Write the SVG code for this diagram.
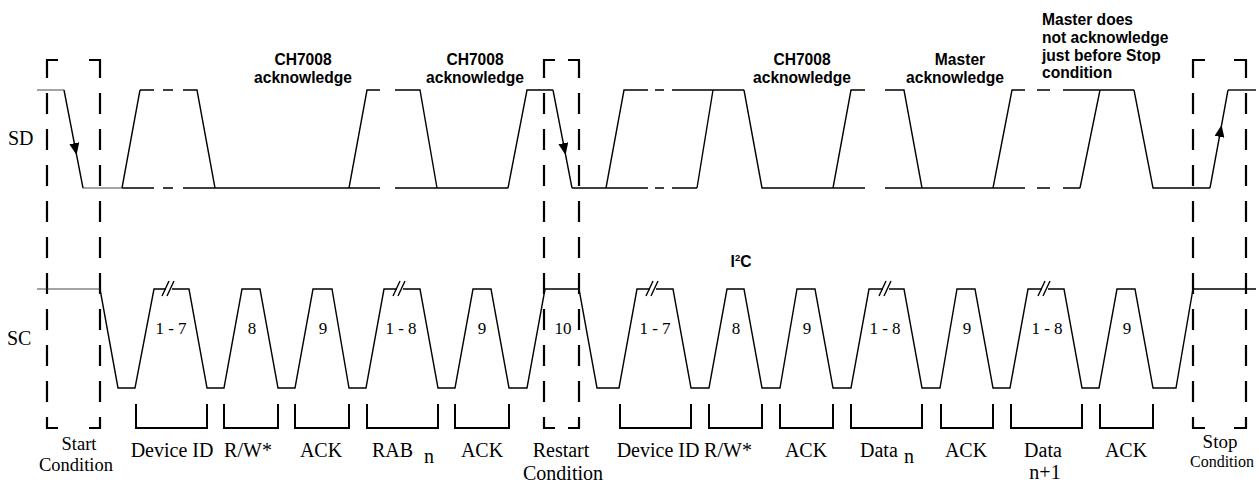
<svg xmlns="http://www.w3.org/2000/svg" width="1259" height="482" viewBox="0 0 1259 482">
<style>
  .w{fill:none;stroke:#000;stroke-width:1.4;stroke-linejoin:miter}
  .thin{fill:none;stroke:#333;stroke-width:0.9}
  .boxv{fill:none;stroke:#000;stroke-width:2.2;stroke-dasharray:21 15;stroke-dashoffset:3}
  .boxh{fill:none;stroke:#000;stroke-width:2.2}
  .br{fill:none;stroke:#000;stroke-width:2}
  .lbl{font-family:"Liberation Serif","Times New Roman",serif;font-size:20px;fill:#000}
  .stk{font-family:"Liberation Serif","Times New Roman",serif;font-size:18.5px;fill:#000;text-anchor:middle}
  .stp{font-family:"Liberation Serif","Times New Roman",serif;font-size:16px;fill:#000;text-anchor:middle}
  .stp2{font-family:"Liberation Serif","Times New Roman",serif;font-size:19px;fill:#000;text-anchor:middle}
  .sig{font-family:"Liberation Serif","Times New Roman",serif;font-size:20px;fill:#000}
  .num{font-family:"Liberation Serif","Times New Roman",serif;font-size:17px;fill:#000;text-anchor:middle}
  .note{font-family:"Liberation Sans",Arial,sans-serif;font-size:15.6px;font-weight:bold;fill:#000}
  .c{text-anchor:middle}
</style>
<defs>
  <marker id="arr" viewBox="0 0 12 10" markerWidth="12" markerHeight="10" refX="12" refY="5" orient="auto" markerUnits="userSpaceOnUse">
    <path d="M0,0 L12,5 L0,10 z" fill="#000"/>
  </marker>
</defs>

<g id="boxes">
  <g id="start-box">
    <line class="boxv" x1="47" y1="60" x2="47" y2="428"/>
    <line class="boxv" x1="100" y1="60" x2="100" y2="428"/>
    <path class="boxh" d="M46,60 H58 M89,60 H101 M46,428 H58 M89,428 H101"/>
  </g>
  <g id="restart-box">
    <line class="boxv" x1="544" y1="60" x2="544" y2="428"/>
    <line class="boxv" x1="579" y1="60" x2="579" y2="428"/>
    <path class="boxh" d="M543,60 H555 M568,60 H580 M543,428 H555 M568,428 H580"/>
  </g>
  <g id="stop-box">
    <line class="boxv" x1="1193" y1="60" x2="1193" y2="428"/>
    <line class="boxv" x1="1246" y1="60" x2="1246" y2="428"/>
    <path class="boxh" d="M1192,60 H1205 M1234,60 H1247 M1192,428 H1205 M1234,428 H1247"/>
  </g>
</g>

<g id="connectors">
  <g id="sd-wave">
    <path class="thin" d="M37,90 H64 M83,188 H122"/>
    <path class="w" d="M64,90 L76.6,155 L83,188" marker-mid="url(#arr)"/>
    <path class="w" d="M122,188 L140,90 M140,90 H154 M163,90 H173 M183,90 H197 L215,188
      M122,188 H154 M163,188 H173 M183,188 H380 M395,188 H508
      M349,188 L367,90 H380 M395,90 H420 L437,188
      M508,188 L527,90 H553"/>
    <path class="w" d="M553,90 L565.6,155 L572,188" marker-mid="url(#arr)"/>
    <path class="w" d="M572,188 H648 M655,188 H664 M672,188 H697
      M606,188 L624,90 H648 M655,90 H664 M672,90 H744
      M697,188 L713,90 M744,90 L762,188 H865
      M833,188 L851,90 H865 M885,90 H904 L922,188
      M885,188 H1025 M1037,188 H1050 M1063,188 H1080
      M993,188 L1012,90 H1025 M1037,90 H1050 M1063,90 H1134
      M1080,188 L1100,90 M1134,90 L1153,188 H1210"/>
    <path class="w" d="M1210,188 L1221.6,125 L1228,90" marker-mid="url(#arr)"/>
    <path class="w" d="M1228,90 H1256"/>
  </g>
  <g id="sc-wave">
    <path class="thin" d="M37,289 H100"/>
    <path class="w" d="M100,289 L118,388 H135 L154,289 H166 M172,289 H189 L207,388 H224 L242,289 H260 L278,388 H295 L313,289 H332 L349,388 H366 L384,289 H397 M403,289 H420 L438,388 H455 L473,289 H491 L509,388 H527 L545,289 H579 L597,388 H619 L637,289 H650 M656,289 H673 L691,388 H709 L727,289 H744 L762,388 H780 L797,289 H815 L833,388 H851 L869,289 H883 M889,289 H904 L922,388 H940 L957,289 H975 L993,388 H1010 L1028,289 H1042 M1048,289 H1064 L1082,388 H1099 L1117,289 H1135 L1153,388 H1176 L1193,289 H1256"/>
    <path class="w" d="M162,296 L169,281 M167,296 L174,281
      M393,296 L400,281 M398,296 L405,281
      M646,296 L653,281 M651,296 L658,281
      M879,296 L886,281 M884,296 L891,281
      M1038,296 L1045,281 M1043,296 L1050,281"/>
  </g>
  <g id="brackets">
    <path class="br" d="M136,404 V428 H207 V404 M224,404 V428 H278 V404 M295,404 V428 H349 V404 M367,404 V428 H438 V404 M455,404 V428 H509 V404
      M620,404 V428 H691 V404 M709,404 V428 H762 V404 M780,404 V428 H833 V404 M851,404 V428 H922 V404
      M941,404 V428 H993 V404 M1011,404 V428 H1082 V404 M1100,404 V428 H1153 V404"/>
  </g>
</g>

<g id="signal-labels">
  <text class="sig" x="8" y="145">SD</text>
  <text class="sig" x="7" y="345">SC</text>
</g>

<g id="notes">
  <text class="note c" x="303" y="65">CH7008</text>
  <text class="note c" x="303" y="83">acknowledge</text>
  <text class="note c" x="475" y="65">CH7008</text>
  <text class="note c" x="475" y="83">acknowledge</text>
  <text class="note c" x="802" y="65">CH7008</text>
  <text class="note c" x="802" y="83">acknowledge</text>
  <text class="note c" x="960" y="65">Master</text>
  <text class="note c" x="955" y="83">acknowledge</text>
  <text class="note" x="1042" y="25">Master does</text>
  <text class="note" x="1042" y="43">not acknowledge</text>
  <text class="note" x="1042" y="60.5">just before Stop</text>
  <text class="note" x="1042" y="78">condition</text>
  <text class="note c" x="741" y="267">I<tspan font-size="9.5" dy="-6">2</tspan><tspan dy="6">C</tspan></text>
</g>

<g id="bit-numbers">
  <text class="num" x="171" y="334">1 - 7</text>
  <text class="num" x="252" y="334">8</text>
  <text class="num" x="323" y="334">9</text>
  <text class="num" x="401" y="334">1 - 8</text>
  <text class="num" x="482" y="334">9</text>
  <text class="num" x="563" y="334">10</text>
  <text class="num" x="655" y="334">1 - 7</text>
  <text class="num" x="736" y="334">8</text>
  <text class="num" x="807" y="334">9</text>
  <text class="num" x="885" y="334">1 - 8</text>
  <text class="num" x="967" y="334">9</text>
  <text class="num" x="1047" y="334">1 - 8</text>
  <text class="num" x="1127" y="334">9</text>
</g>

<g id="field-labels">
  <text class="stk" x="79" y="450">Start</text>
  <text class="stk" x="76" y="471">Condition</text>
  <text class="lbl c" x="172" y="457">Device ID</text>
  <text class="lbl c" x="248" y="457">R/W*</text>
  <text class="lbl c" x="321" y="457">ACK</text>
  <text class="lbl" x="372" y="457">RAB</text>
  <text class="lbl" x="424" y="463">n</text>
  <text class="lbl c" x="482" y="457">ACK</text>
  <text class="lbl c" x="561" y="457">Restart</text>
  <text class="lbl c" x="563" y="480">Condition</text>
  <text class="lbl c" x="658" y="457">Device ID</text>
  <text class="lbl c" x="728" y="457">R/W*</text>
  <text class="lbl c" x="806" y="457">ACK</text>
  <text class="lbl" x="860" y="457">Data</text>
  <text class="lbl" x="904" y="463">n</text>
  <text class="lbl c" x="966" y="457">ACK</text>
  <text class="lbl c" x="1043" y="457">Data</text>
  <text class="lbl c" x="1045" y="479">n+1</text>
  <text class="lbl c" x="1126" y="457">ACK</text>
  <text class="stp2" x="1220" y="448">Stop</text>
  <text class="stp" x="1222" y="467">Condition</text>
</g>
</svg>
